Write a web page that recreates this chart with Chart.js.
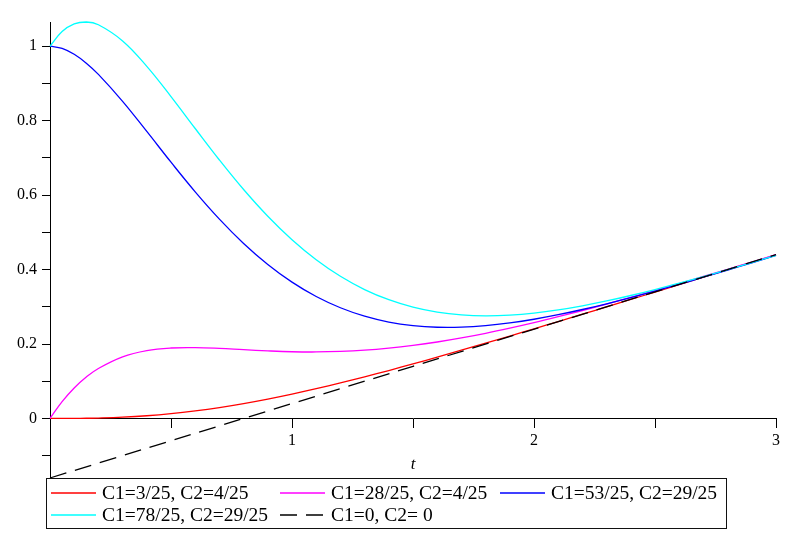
<!DOCTYPE html>
<html>
<head>
<meta charset="utf-8">
<script src="https://cdn.jsdelivr.net/npm/chart.js@4.4.0/dist/chart.umd.min.js"></script>
<style>
html,body{margin:0;padding:0;background:#fff;}
#wrap{position:relative;width:786px;height:539px;}
#legend{position:absolute;left:46px;top:478px;width:681px;height:51px;box-sizing:border-box;border:1px solid #111;}
.item{position:absolute;display:flex;align-items:center;height:22px;font-family:'Liberation Serif','Times New Roman',serif;font-size:19.5px;color:#000;white-space:nowrap;}
.item svg{margin-right:6px;display:block;}
</style>
</head>
<body>
<div id="wrap">
<canvas id="c" width="786" height="539"></canvas>
<div id="legend"></div>
</div>
<script>
// ---- data ----
const tValues = [0, 0.05, 0.1, 0.15, 0.2, 0.3, 0.4, 0.5, 0.6, 0.7, 0.8, 0.9, 1.0, 1.1, 1.2, 1.3, 1.4, 1.5, 1.6, 1.7, 1.8, 1.9, 2.0, 2.1, 2.2, 2.3, 2.4, 2.5, 2.6, 2.7, 2.8, 2.9, 3.0];
const redValues = [0, 0.0000, 0.0002, 0.0005, 0.0011, 0.0034, 0.0072, 0.0128, 0.0202, 0.0292, 0.0399, 0.0520, 0.0654, 0.0799, 0.0954, 0.1118, 0.1288, 0.1465, 0.1647, 0.1833, 0.2022, 0.2214, 0.2408, 0.2603, 0.2800, 0.2998, 0.3197, 0.3396, 0.3596, 0.3796, 0.3996, 0.4196, 0.4396];
const magentaValues = [0, 0.0452, 0.0819, 0.1112, 0.1343, 0.1655, 0.1822, 0.1892, 0.1902, 0.1881, 0.1847, 0.1815, 0.1792, 0.1786, 0.1800, 0.1833, 0.1888, 0.1962, 0.2054, 0.2164, 0.2288, 0.2426, 0.2574, 0.2733, 0.2900, 0.3073, 0.3253, 0.3437, 0.3624, 0.3815, 0.4008, 0.4203, 0.4400];
const blueValues = [1, 0.9942, 0.9783, 0.9544, 0.9244, 0.8520, 0.7710, 0.6884, 0.6089, 0.5356, 0.4702, 0.4137, 0.3662, 0.3276, 0.2974, 0.2748, 0.2590, 0.2494, 0.2450, 0.2452, 0.2492, 0.2565, 0.2665, 0.2787, 0.2927, 0.3081, 0.3247, 0.3423, 0.3605, 0.3794, 0.3986, 0.4181, 0.4379];
const cyanValues = [1, 1.0394, 1.0600, 1.0651, 1.0576, 1.0142, 0.9460, 0.8648, 0.7790, 0.6944, 0.6150, 0.5432, 0.4801, 0.4264, 0.3819, 0.3463, 0.3190, 0.2990, 0.2857, 0.2783, 0.2758, 0.2777, 0.2831, 0.2916, 0.3026, 0.3156, 0.3303, 0.3463, 0.3634, 0.3813, 0.3998, 0.4188, 0.4382];
const lineT = [0, 3];
const lineValues = [-0.16, 0.44];
const seriesLabels = ['C1=3/25, C2=4/25', 'C1=28/25, C2=4/25', 'C1=53/25, C2=29/25', 'C1=78/25, C2=29/25', 'C1=0, C2= 0'];
const xTickLabels = ['1', '2', '3'];
const yTickLabels = ['0', '0.2', '0.4', '0.6', '0.8', '1'];

// ---- styles ----
const seriesColors = ['#ff0000', '#ff00ff', '#0000ff', '#00ffff', '#000000'];
const seriesDash = [[], [], [], [], [17, 9]];
const serif = "'Liberation Serif','Times New Roman',serif";

const toPts = (xs, ys) => xs.map((x, i) => ({x: x, y: ys[i]}));
const allSeries = [
  toPts(tValues, redValues),
  toPts(tValues, magentaValues),
  toPts(tValues, blueValues),
  toPts(tValues, cyanValues),
  toPts(lineT, lineValues)
];

const datasets = allSeries.map((d, i) => ({
  label: seriesLabels[i],
  data: d,
  borderColor: seriesColors[i],
  backgroundColor: seriesColors[i],
  borderDash: seriesDash[i],
  borderWidth: 1.3,
  pointRadius: 0,
  tension: 0.4,
  fill: false,
  order: allSeries.length - i,
  clip: 4
}));

function fmt(v) { return String(Number(v.toFixed(1))); }

new Chart(document.getElementById('c'), {
  type: 'line',
  data: { datasets: datasets },
  options: {
    responsive: false,
    animation: false,
    layout: { padding: { left: 0, right: 10, top: 22, bottom: 61 } },
    plugins: { legend: { display: false }, tooltip: { enabled: false } },
    scales: {
      x: {
        type: 'linear',
        position: { y: 0 },
        min: 0, max: 3,
        z: 1,
        ticks: {
          stepSize: 0.5, autoSkip: false, includeBounds: false, maxRotation: 0,
          color: '#000', padding: 4,
          font: { family: serif, size: 16 },
          callback: v => { const s = fmt(v); return xTickLabels.includes(s) ? s : ''; }
        },
        grid: { drawOnChartArea: false, drawTicks: true, tickLength: 9, color: '#000', tickColor: '#000' },
        border: { display: true, color: '#000', width: 1 },
        title: { display: true, text: 't', color: '#000', padding: 0, font: { family: serif, style: 'italic', size: 17 } }
      },
      y: {
        type: 'linear',
        position: 'left',
        min: -0.16, max: 1.0651,
        afterFit: s => { s.width = 50; },
        ticks: {
          stepSize: 0.1, autoSkip: false, includeBounds: false,
          color: '#000', padding: 5,
          font: { family: serif, size: 16 },
          callback: v => { const s = fmt(v); return yTickLabels.includes(s) ? s : ''; }
        },
        grid: { drawOnChartArea: false, drawTicks: true, tickLength: 8, color: '#000', tickColor: '#000' },
        border: { display: true, color: '#000', width: 1 }
      }
    }
  }
});

// ---- legend (grid of 3 columns) ----
const legendCols = [51, 280, 500];
const legendRows = [493, 515];
const legend = document.getElementById('legend');
const wrap = document.getElementById('wrap');
seriesLabels.forEach((lab, i) => {
  const col = i % 3, row = Math.floor(i / 3);
  const it = document.createElement('div');
  it.className = 'item';
  it.style.left = legendCols[col] + 'px';
  it.style.top = (legendRows[row] - 11) + 'px';
  const dash = seriesDash[i].length ? ` stroke-dasharray="${seriesDash[i].join(' ')}"` : '';
  it.innerHTML = `<svg width="45" height="6"><line x1="0" y1="3" x2="45" y2="3" stroke="${seriesColors[i]}" stroke-width="1.3"${dash}/></svg><span></span>`;
  it.querySelector('span').textContent = lab;
  wrap.appendChild(it);
});
</script>
</body>
</html>
